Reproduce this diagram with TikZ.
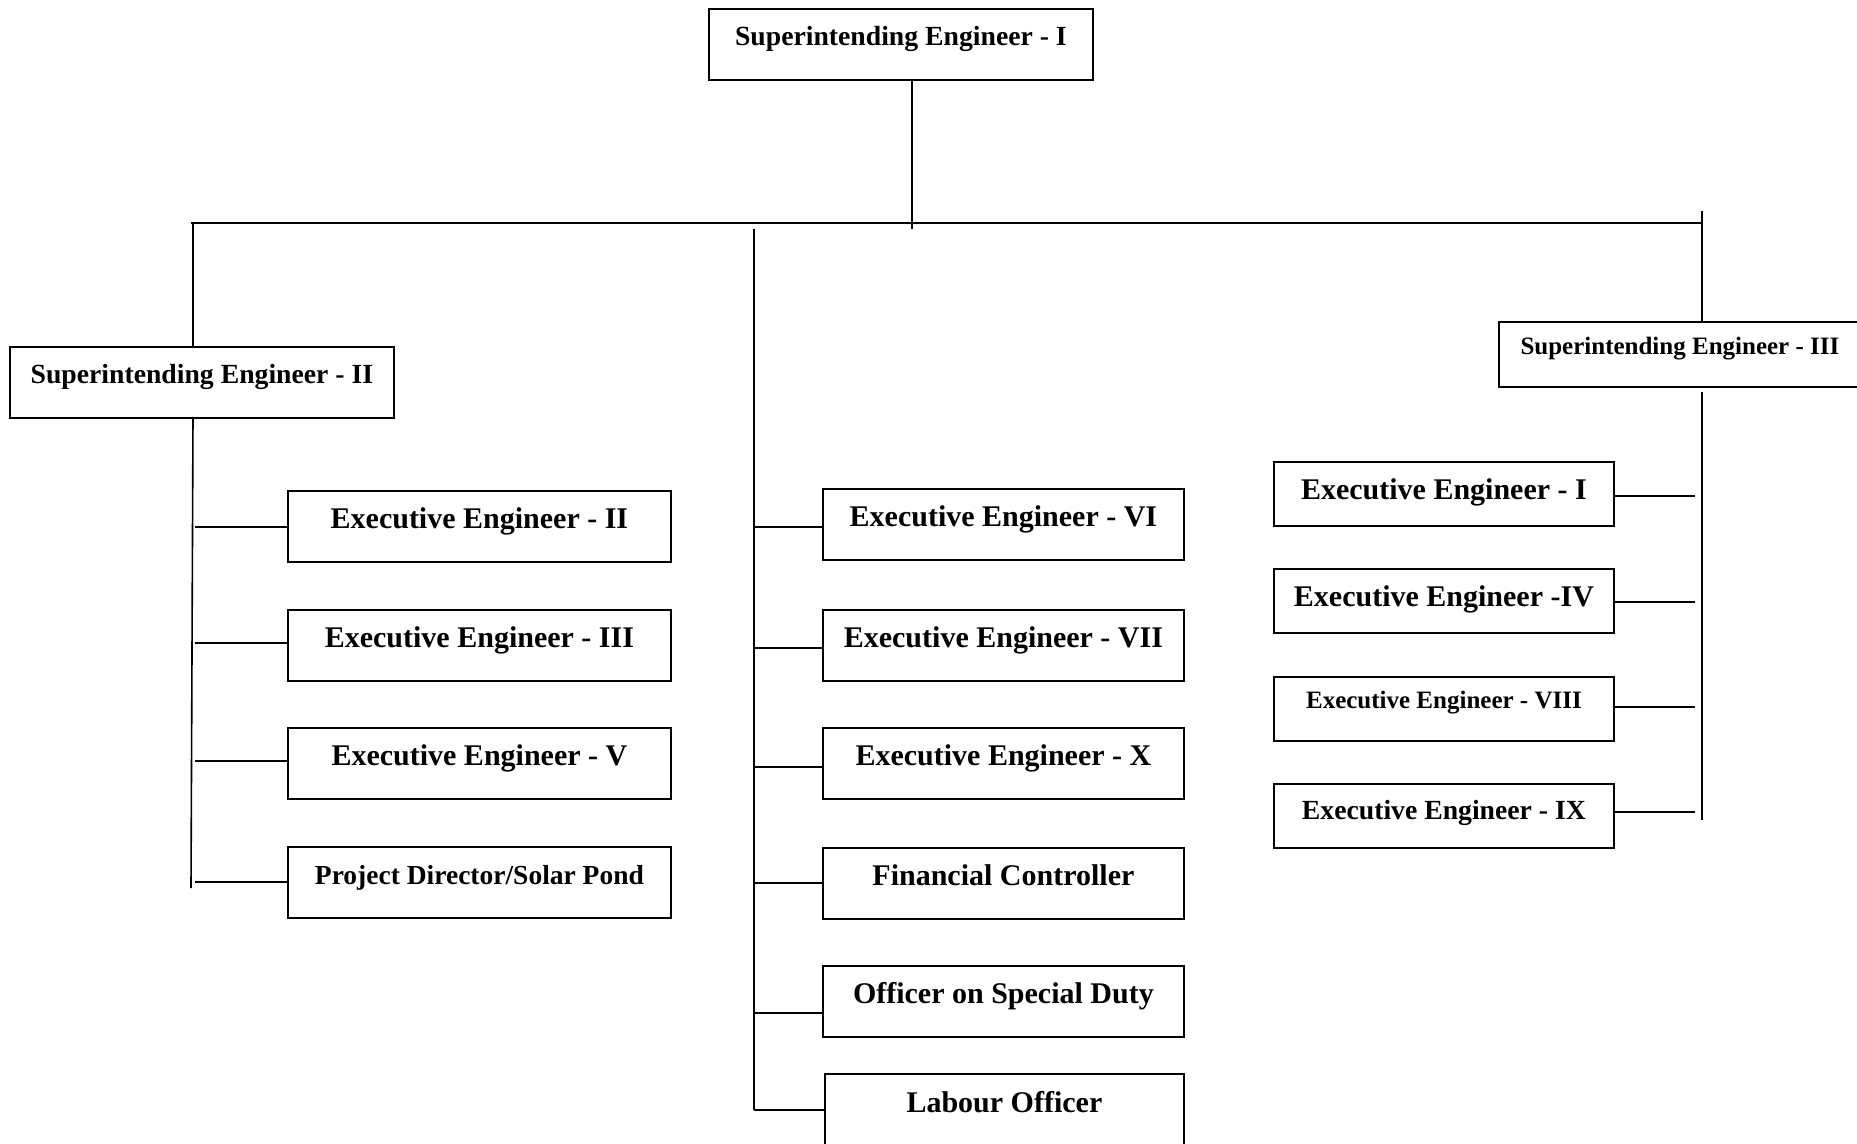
\documentclass[tikz,border=0pt]{standalone}
\usepackage{fontspec}
\setmainfont{Liberation Serif}
\begin{document}
\begin{tikzpicture}[x=0.5pt,y=-0.5pt,
  orgbox/.style n args={4}{draw, line width=0.9pt, inner sep=0pt, anchor=north west,
    minimum width=#1, text height=#2, text depth=#3, align=center,
    font=\bfseries\fontsize{#4}{#4}\selectfont},
  link/.style={line width=0.8pt},
  bus/.style={line width=1.1pt}]
\useasboundingbox (0,0) rectangle (1857,1144);
\clip (0,0) rectangle (1857,1144);

% superintending engineers
\node[orgbox={192pt}{18.5pt}{17pt}{13.85pt}] (se1) at (708,8) {Superintending Engineer - I};
\node[orgbox={192pt}{18.5pt}{17pt}{13.85pt}] (se2) at (9,346) {Superintending Engineer - II};
\node[orgbox={181pt}{16.5pt}{16pt}{12.5pt}] (se3) at (1498,321) {Superintending Engineer - III};

% left column
\node[orgbox={191.5pt}{19pt}{16.5pt}{15pt}] (e2) at (287,490) {Executive Engineer - II};
\node[orgbox={191.5pt}{19pt}{16.5pt}{15pt}] (e3) at (287,609) {Executive Engineer - III};
\node[orgbox={191.5pt}{19pt}{16.5pt}{15pt}] (e5) at (287,727) {Executive Engineer - V};
\node[orgbox={191.5pt}{19pt}{16.5pt}{13.75pt}] (pd) at (287,846) {Project Director/Solar Pond};

% middle column
\node[orgbox={180.5pt}{19pt}{16.5pt}{15pt}] (e6) at (822,488) {Executive Engineer - VI};
\node[orgbox={180.5pt}{19pt}{16.5pt}{15pt}] (e7) at (822,609) {Executive Engineer - VII};
\node[orgbox={180.5pt}{19pt}{16.5pt}{15pt}] (e10) at (822,727) {Executive Engineer - X};
\node[orgbox={180.5pt}{19pt}{16.5pt}{15pt}] (fc) at (822,847) {Financial Controller};
\node[orgbox={180.5pt}{19pt}{16.5pt}{15pt}] (osd) at (822,965) {Officer on Special Duty};
\node[orgbox={179.5pt}{19.5pt}{40pt}{15pt}] (lo) at (824,1073) {Labour Officer};

% right column
\node[orgbox={170pt}{19pt}{13pt}{15pt}] (e1) at (1273,461) {Executive Engineer - I};
\node[orgbox={170pt}{19pt}{13pt}{15pt}] (e4) at (1273,568) {Executive Engineer -IV};
\node[orgbox={170pt}{16pt}{16pt}{12.5pt}] (e8) at (1273,676) {Executive Engineer - VIII};
\node[orgbox={170pt}{18pt}{14pt}{13.85pt}] (e9) at (1273,783) {Executive Engineer - IX};

% trunk and bus
\coordinate (t1) at (912,79);
\coordinate (t2) at (912,229);
\coordinate (busL) at (191,223);
\coordinate (busR) at (1702,223);
\draw[link] (t1) -- (t2);
\draw[bus] (busL) -- (busR);

% branch to SE-II
\coordinate (lt) at (193,223);
\draw[link] (lt) -- (lt |- se2.north);
% branch to SE-III
\coordinate (rt) at (1702,211);
\draw[link] (rt) -- (rt |- se3.north);

% left spine
\coordinate (ls0) at (193,417);
\coordinate (ls1) at (191,888);
\draw[link] (ls0) -- (ls1);
\coordinate (la) at (195,527);
\coordinate (lb) at (195,643);
\coordinate (lc) at (195,761);
\coordinate (ld) at (195,882);
\draw[link] (la) -- (la -| e2.west);
\draw[link] (lb) -- (lb -| e3.west);
\draw[link] (lc) -- (lc -| e5.west);
\draw[link] (ld) -- (ld -| pd.west);

% middle spine
\coordinate (ms0) at (754,229);
\coordinate (ms1) at (754,1110);
\draw[link] (ms0) -- (ms1);
\coordinate (ma) at (754,527);
\coordinate (mb) at (754,648);
\coordinate (mc) at (754,767);
\coordinate (md) at (754,883);
\coordinate (me) at (754,1013);
\draw[link] (ma) -- (ma -| e6.west);
\draw[link] (mb) -- (mb -| e7.west);
\draw[link] (mc) -- (mc -| e10.west);
\draw[link] (md) -- (md -| fc.west);
\draw[link] (me) -- (me -| osd.west);
\draw[link] (ms1) -- (ms1 -| lo.west);

% right spine
\coordinate (rs0) at (1702,392);
\coordinate (rs1) at (1702,820);
\draw[link] (rs0) -- (rs1);
\coordinate (ra) at (1695,496);
\coordinate (rb) at (1695,602);
\coordinate (rc) at (1695,707);
\coordinate (rd) at (1695,812);
\draw[link] (e1.east |- ra) -- (ra);
\draw[link] (e4.east |- rb) -- (rb);
\draw[link] (e8.east |- rc) -- (rc);
\draw[link] (e9.east |- rd) -- (rd);
\end{tikzpicture}
\end{document}
